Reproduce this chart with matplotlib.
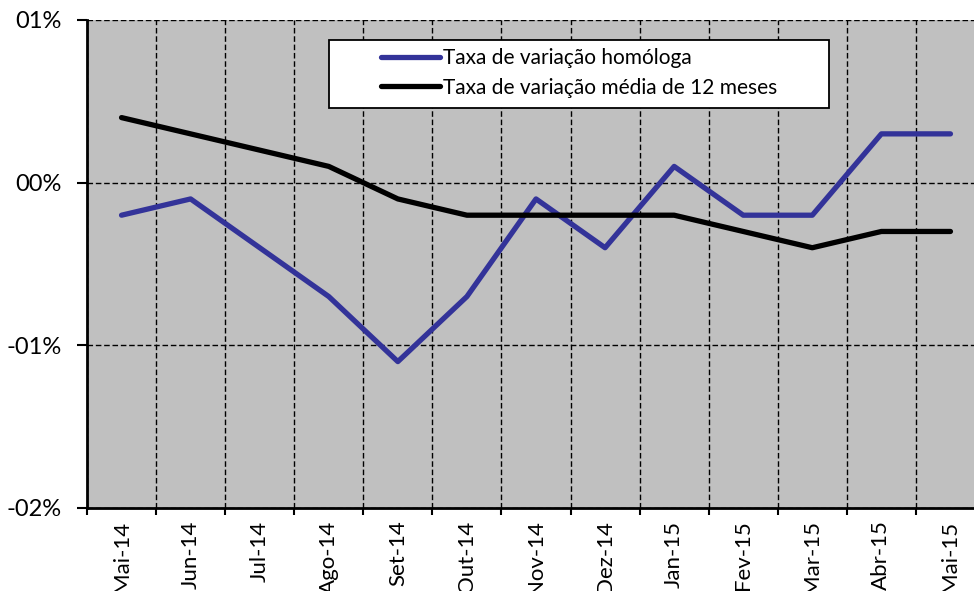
import matplotlib.pyplot as plt
import numpy as np
from matplotlib.patches import Rectangle

plt.rcParams['font.family'] = ['Lato', 'DejaVu Sans']

labels = ['Mai-14', 'Jun-14', 'Jul-14', 'Ago-14', 'Set-14', 'Out-14', 'Nov-14',
          'Dez-14', 'Jan-15', 'Fev-15', 'Mar-15', 'Abr-15', 'Mai-15']
homologa = [-0.2, -0.1, -0.4, -0.7, -1.1, -0.7, -0.1, -0.4, 0.1, -0.2, -0.2, 0.3, 0.3]
media12 = [0.4, 0.3, 0.2, 0.1, -0.1, -0.2, -0.2, -0.2, -0.2, -0.3, -0.4, -0.3, -0.3]
yticks = [-2, -1, 0, 1]
yticklabels = ['-02%', '-01%', '00%', '01%']

x = np.arange(len(labels))

W, H = 974, 591
ax_l, ax_r, ax_t, ax_b = 87, 985, 20, 508
fig = plt.figure(figsize=(W / 100, H / 100), dpi=100)
ax = fig.add_axes([ax_l / W, 1 - ax_b / H, (ax_r - ax_l) / W, (ax_b - ax_t) / H])
ax.set_facecolor('#C0C0C0')

ax.plot(x, homologa, color='#333399', lw=3.8, solid_capstyle='round',
        label='Taxa de variação homóloga', zorder=3)
ax.plot(x, media12, color='black', lw=3.8, solid_capstyle='round',
        label='Taxa de variação média de 12 meses', zorder=3)

ax.set_xlim(-0.5, len(labels) - 0.5)
ax.set_ylim(-2, 1)

ax.set_xticks(x)
ax.set_xticklabels(labels, rotation=90, fontsize=16)
ax.set_xticks(np.arange(-0.5, len(labels)), minor=True)
ax.tick_params(axis='x', which='major', length=0, pad=9)
ax.tick_params(axis='x', which='minor', length=5, width=1.5, direction='out')

ax.set_yticks(yticks)
ax.set_yticklabels(yticklabels, fontsize=17)
ax.tick_params(axis='y', length=7, width=1.5, direction='out', pad=11)

ax.grid(axis='x', which='minor', color='black', linestyle=(0, (4, 2)), lw=1)
ax.grid(axis='y', which='major', color='black', linestyle=(0, (4, 2)), lw=1)
ax.set_axisbelow(True)

for s in ['top', 'right']:
    ax.spines[s].set_visible(False)
for s in ['left', 'bottom']:
    ax.spines[s].set_linewidth(2)

# legend frame drawn by hand (wide left margin as in the source)
def ax_xy(px, py):
    return ((px - ax_l) / (ax_r - ax_l), (ax_b - py) / (ax_b - ax_t))

x0, y0 = ax_xy(329, 108)
x1, y1 = ax_xy(829, 40)
ax.add_patch(Rectangle((x0, y0), x1 - x0, y1 - y0, transform=ax.transAxes,
                       facecolor='white', edgecolor='black', lw=1.3, zorder=5))

lx, ly = ax_xy(375, 42)
leg = ax.legend(loc='upper left', bbox_to_anchor=(lx, ly), fontsize=15,
                frameon=False, handlelength=2.8, handletextpad=0.15,
                borderpad=0.3, labelspacing=0.45, borderaxespad=0)
leg.set_zorder(6)

fig.savefig('out.png', dpi=100)
